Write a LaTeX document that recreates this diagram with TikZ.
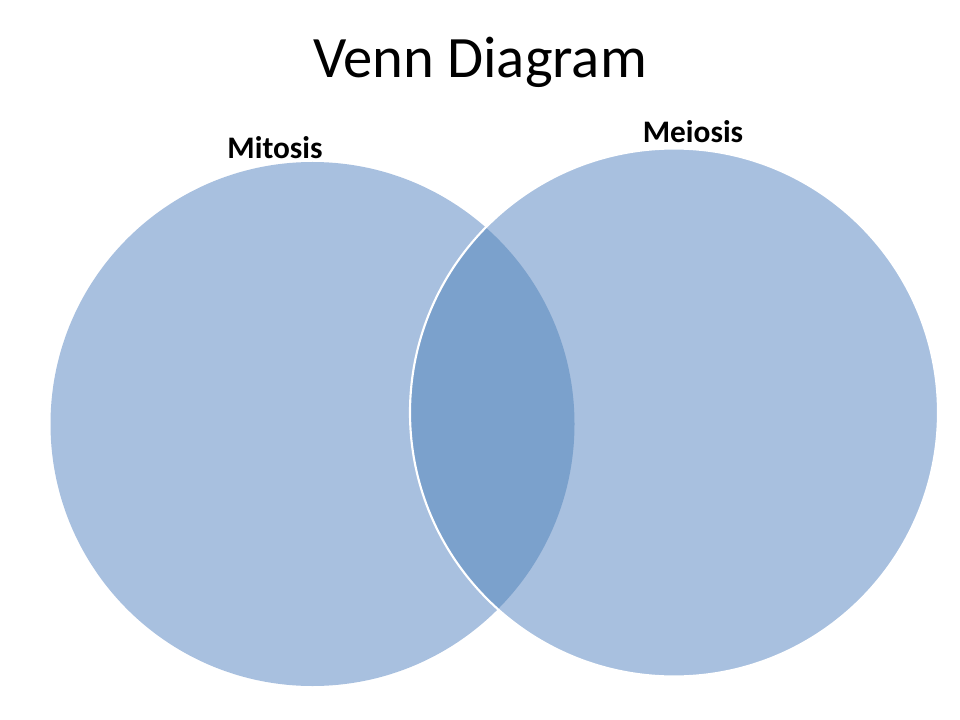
\documentclass[tikz,border=0pt]{standalone}
\usepackage{fontspec}
\setmainfont{Carlito}
\definecolor{setblue}{HTML}{A8C0DF}
\definecolor{bothblue}{HTML}{7BA1CC}
\begin{document}
\begin{tikzpicture}[x=0.75pt, y=-0.75pt]
        \useasboundingbox[fill=white] (0, 0) rectangle (960, 720);

        \fill[setblue] (312.5, 424) circle (262);
        \fill[setblue] (674, 412.5) circle (264);
        \begin{scope}
            \clip (312.5, 424) circle (262);
            \fill[bothblue] (674, 412.5) circle (264);
        \end{scope}
        \draw[white, line width=1.6pt] (674, 412.5) circle (264);

        \node (title) at (480, 62) {\fontsize{44}{50}\selectfont Venn Diagram};
        \node (mitosis) at (275, 148) {\fontsize{23.5}{28}\selectfont\bfseries Mitosis};
        \node (meiosis) at (693, 132) {\fontsize{23.5}{28}\selectfont\bfseries Meiosis};
    \end{tikzpicture}
\end{document}
